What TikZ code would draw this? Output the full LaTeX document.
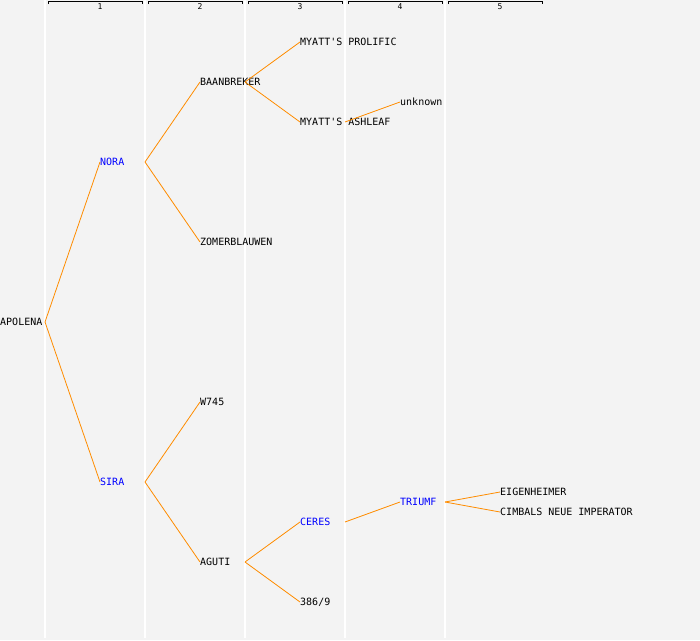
\documentclass[tikz,border=0pt]{standalone}
\usepackage{fontspec}
\setmonofont{DejaVu Sans Mono}
\usepackage{tikz}

\definecolor{bgcol}{HTML}{F3F3F3}
\definecolor{linkcol}{HTML}{FF8C00}
\tikzset{
	pednode/.style={anchor=west,inner sep=0pt,font=\ttfamily\fontsize{10}{10}\selectfont},
	sirenode/.style={pednode,text=blue},
	genline/.style={draw=linkcol,line width=0.8pt},
	colline/.style={draw=white,line width=1.5pt},
}

\begin{document}
\begin{tikzpicture}[x=1pt,y=-1pt]
		\fill[bgcol] (0,0) rectangle (700,640);
		\useasboundingbox (0,0) rectangle (700,640);
		% generation columns
		\foreach \g in {1,...,5} {
			\draw[colline] (\g*100-55,0) -- (\g*100-55,638);
			\draw[black,line width=0.8pt] (\g*100-52,4) -- (\g*100-52,1.5) -- (\g*100+42,1.5) -- (\g*100+42,4);
			\node[font=\ttfamily\fontsize{8}{8}\selectfont,inner sep=0pt] (head\g) at (\g*100,6.5) {\g};
		}
		\begin{scope}[every node/.style={pednode}]
			\node (apolena) at (0,322) {APOLENA};
			\node[sirenode] (nora) at (100,162) {NORA};
			\node[sirenode] (sira) at (100,482) {SIRA};
			\node (baanbreker) at (200,82) {BAANBREKER};
			\node (zomerblauwen) at (200,242) {ZOMERBLAUWEN};
			\node (w745) at (200,402) {W745};
			\node (aguti) at (200,562) {AGUTI};
			\node (prolific) at (300,42) {MYATT'S PROLIFIC};
			\node (ashleaf) at (300,122) {MYATT'S ASHLEAF};
			\node[sirenode] (ceres) at (300,522) {CERES};
			\node (n3869) at (300,602) {386/9};
			\node (unknown) at (400,102) {unknown};
			\node[sirenode] (triumf) at (400,502) {TRIUMF};
			\node (eigenheimer) at (500,492) {EIGENHEIMER};
			\node (cimbals) at (500,512) {CIMBALS NEUE IMPERATOR};
		\end{scope}
		% branch points
		\coordinate (apolena-j) at (45,322);
		\coordinate (nora-j) at (145,162);
		\coordinate (sira-j) at (145,482);
		\coordinate (baanbreker-j) at (245,82);
		\coordinate (aguti-j) at (245,562);
		\coordinate (ashleaf-j) at (345,122);
		\coordinate (ceres-j) at (345,522);
		\coordinate (triumf-j) at (445,502);
		\begin{scope}[every path/.style={genline}]
			\path (apolena-j) edge (nora.west) edge (sira.west);
			\path (nora-j) edge (baanbreker.west) edge (zomerblauwen.west);
			\path (sira-j) edge (w745.west) edge (aguti.west);
			\path (baanbreker-j) edge (prolific.west) edge (ashleaf.west);
			\path (aguti-j) edge (ceres.west) edge (n3869.west);
			\path (ashleaf-j) edge (unknown.west);
			\path (ceres-j) edge (triumf.west);
			\path (triumf-j) edge (eigenheimer.west) edge (cimbals.west);
		\end{scope}
	\end{tikzpicture}
\end{document}
